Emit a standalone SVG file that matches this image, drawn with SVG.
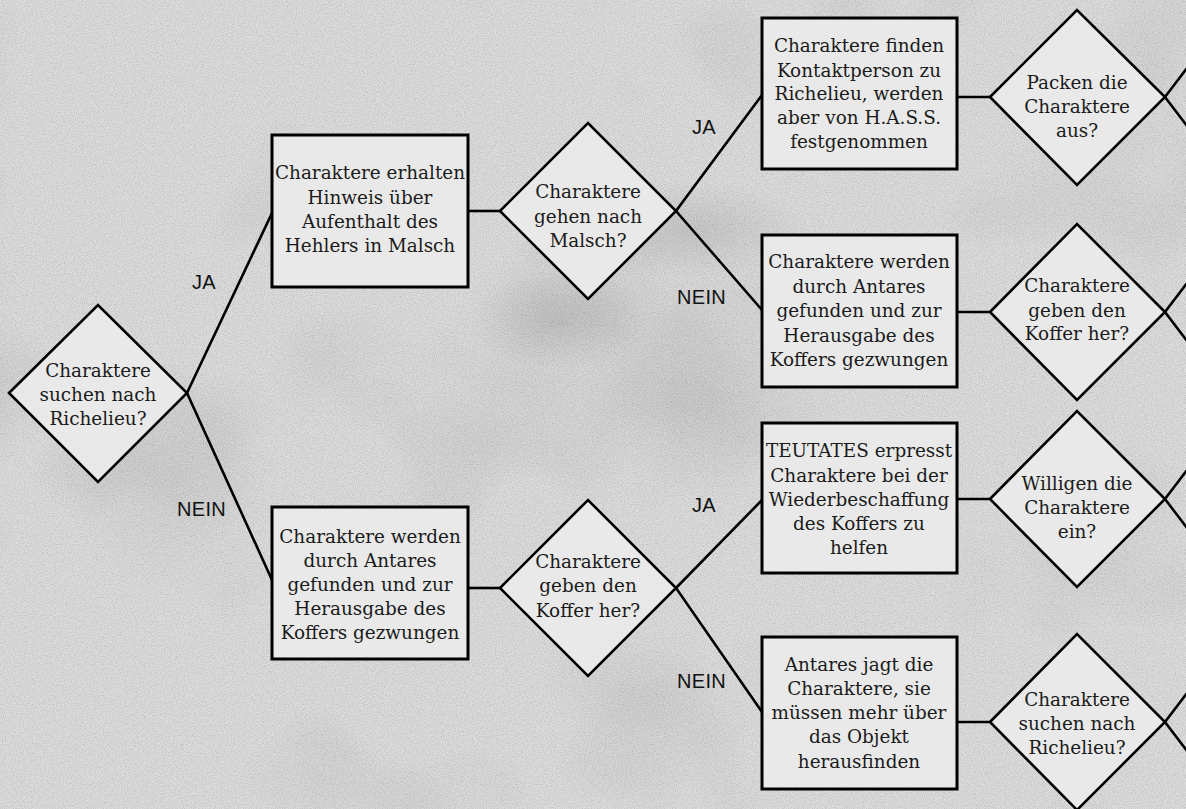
<svg xmlns="http://www.w3.org/2000/svg" width="1186" height="809" viewBox="0 0 1186 809">
<defs>
<filter id="paper" x="0" y="0" width="100%" height="100%">
<feTurbulence type="fractalNoise" baseFrequency="0.9" numOctaves="2" seed="3" result="n"/>
<feColorMatrix type="matrix" values="0 0 0 0 0  0 0 0 0 0  0 0 0 0 0  0 0 0 -0.9 0.55" />
</filter>
<filter id="blot" x="0" y="0" width="100%" height="100%">
<feTurbulence type="fractalNoise" baseFrequency="0.004" numOctaves="3" seed="8"/>
<feColorMatrix type="matrix" values="0 0 0 0 0  0 0 0 0 0  0 0 0 0 0  0 0 0 -1.0 0.5" />
</filter>
<radialGradient id="dark1" cx="0.5" cy="0.5" r="0.5">
<stop offset="0" stop-color="#000" stop-opacity="0.1"/>
<stop offset="1" stop-color="#000" stop-opacity="0"/>
</radialGradient>
<style>
.box{fill:#e9e9e9;stroke:#000;stroke-width:3}
.dia{fill:#e9e9e9;stroke:#000;stroke-width:2.6;stroke-linejoin:miter}
.ln{fill:none;stroke:#000;stroke-width:2.6}
.t{font-family:"DejaVu Serif","Liberation Serif",serif;font-size:18.4px;fill:#1a1a1a;text-anchor:middle}
.lab{font-family:"Liberation Sans",Arial,sans-serif;font-size:20px;fill:#111;letter-spacing:0.3px}
</style>
</defs>
<rect id="bg" x="0" y="0" width="1186" height="809" fill="#dcdcdc"/>
<rect x="0" y="0" width="1186" height="809" filter="url(#blot)" opacity="0.22"/>
<ellipse cx="690" cy="230" rx="120" ry="50" fill="url(#dark1)"/>
<ellipse cx="560" cy="320" rx="90" ry="50" fill="url(#dark1)"/>
<ellipse cx="170" cy="480" rx="110" ry="120" fill="url(#dark1)" opacity="0.5"/>
<rect x="0" y="0" width="1186" height="809" filter="url(#paper)" opacity="0.3"/>

<g id="connectors">
<polyline class="ln" points="272,213 187,393 272,580"/>
<line class="ln" x1="468" y1="211" x2="500" y2="211"/>
<line class="ln" x1="468" y1="588" x2="500" y2="588"/>
<polyline class="ln" points="762,95 676,211 762,310"/>
<polyline class="ln" points="762,500 676,588 762,712"/>
<line class="ln" x1="957" y1="97" x2="990" y2="97"/>
<line class="ln" x1="957" y1="312" x2="990" y2="312"/>
<line class="ln" x1="957" y1="499" x2="990" y2="499"/>
<line class="ln" x1="957" y1="722" x2="990" y2="722"/>
<polyline class="ln" points="1190,64 1165,97 1190,130"/>
<polyline class="ln" points="1190,279 1165,312 1190,345"/>
<polyline class="ln" points="1190,466 1165,499 1190,532"/>
<polyline class="ln" points="1190,689 1165,722 1190,755"/>
<text class="lab" x="192" y="289">JA</text>
<text class="lab" x="177" y="516">NEIN</text>
<text class="lab" x="692" y="134">JA</text>
<text class="lab" x="677" y="304">NEIN</text>
<text class="lab" x="692" y="512">JA</text>
<text class="lab" x="677" y="688">NEIN</text>
</g>

<g id="d1">
<polygon class="dia" points="9,393 98,305 187,393 98,482"/>
<text class="t" x="98" y="377">Charaktere</text>
<text class="t" x="98" y="401">suchen nach</text>
<text class="t" x="98" y="425">Richelieu?</text>
</g>

<g id="b1">
<rect class="box" x="272" y="135" width="196" height="152"/>
<text class="t" x="370" y="179">Charaktere erhalten</text>
<text class="t" x="370" y="204">Hinweis über</text>
<text class="t" x="370" y="228">Aufenthalt des</text>
<text class="t" x="370" y="252">Hehlers in Malsch</text>
</g>

<g id="b2">
<rect class="box" x="272" y="507" width="196" height="152"/>
<text class="t" x="370" y="543">Charaktere werden</text>
<text class="t" x="370" y="567">durch Antares</text>
<text class="t" x="370" y="591">gefunden und zur</text>
<text class="t" x="370" y="615">Herausgabe des</text>
<text class="t" x="370" y="639">Koffers gezwungen</text>
</g>

<g id="d2">
<polygon class="dia" points="500,211 588,123 676,211 588,299"/>
<text class="t" x="588" y="198">Charaktere</text>
<text class="t" x="588" y="223">gehen nach</text>
<text class="t" x="588" y="247">Malsch?</text>
</g>

<g id="d3">
<polygon class="dia" points="500,588 588,500 676,588 588,676"/>
<text class="t" x="588" y="568">Charaktere</text>
<text class="t" x="588" y="592">geben den</text>
<text class="t" x="588" y="617">Koffer her?</text>
</g>

<g id="bA">
<rect class="box" x="762" y="18" width="195" height="151"/>
<text class="t" x="859" y="52">Charaktere finden</text>
<text class="t" x="859" y="77">Kontaktperson zu</text>
<text class="t" x="859" y="100">Richelieu, werden</text>
<text class="t" x="859" y="124">aber von H.A.S.S.</text>
<text class="t" x="859" y="148">festgenommen</text>
</g>

<g id="bB">
<rect class="box" x="762" y="235" width="195" height="152"/>
<text class="t" x="859" y="268">Charaktere werden</text>
<text class="t" x="859" y="293">durch Antares</text>
<text class="t" x="859" y="317">gefunden und zur</text>
<text class="t" x="859" y="342">Herausgabe des</text>
<text class="t" x="859" y="366">Koffers gezwungen</text>
</g>

<g id="bC">
<rect class="box" x="762" y="423" width="195" height="150"/>
<text class="t" x="859" y="457">TEUTATES erpresst</text>
<text class="t" x="859" y="482">Charaktere bei der</text>
<text class="t" x="859" y="506">Wiederbeschaffung</text>
<text class="t" x="859" y="530">des Koffers zu</text>
<text class="t" x="859" y="554">helfen</text>
</g>

<g id="bD">
<rect class="box" x="762" y="637" width="195" height="152"/>
<text class="t" x="859" y="671">Antares jagt die</text>
<text class="t" x="859" y="695">Charaktere, sie</text>
<text class="t" x="859" y="719">müssen mehr über</text>
<text class="t" x="859" y="743">das Objekt</text>
<text class="t" x="859" y="768">herausfinden</text>
</g>

<g id="dA">
<polygon class="dia" points="990,97 1077,10 1165,97 1077,185"/>
<text class="t" x="1077" y="89">Packen die</text>
<text class="t" x="1077" y="113">Charaktere</text>
<text class="t" x="1077" y="137">aus?</text>
</g>

<g id="dB">
<polygon class="dia" points="990,312 1077,224 1165,312 1077,400"/>
<text class="t" x="1077" y="292">Charaktere</text>
<text class="t" x="1077" y="317">geben den</text>
<text class="t" x="1077" y="340">Koffer her?</text>
</g>

<g id="dC">
<polygon class="dia" points="990,499 1077,411 1165,499 1077,587"/>
<text class="t" x="1077" y="490">Willigen die</text>
<text class="t" x="1077" y="514">Charaktere</text>
<text class="t" x="1077" y="538">ein?</text>
</g>

<g id="dD">
<polygon class="dia" points="990,722 1077,634 1165,722 1077,810"/>
<text class="t" x="1077" y="706">Charaktere</text>
<text class="t" x="1077" y="730">suchen nach</text>
<text class="t" x="1077" y="754">Richelieu?</text>
</g>
</svg>
